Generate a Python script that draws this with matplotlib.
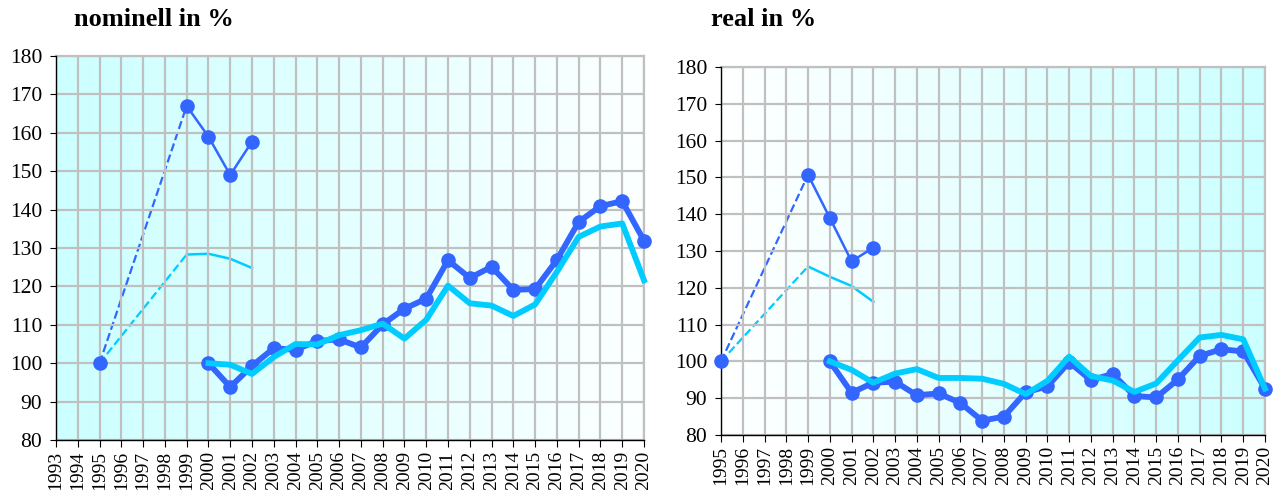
import numpy as np
import matplotlib
matplotlib.use("Agg")
import matplotlib.pyplot as plt
from matplotlib.colors import LinearSegmentedColormap

plt.rcParams['font.family'] = ['Liberation Serif', 'DejaVu Serif']

BLUE = '#3366ff'
CYAN = '#00ccff'
GRID = '#c0c0c0'

# early period (1995 base, 1999-2002)
early_years = [1999, 2000, 2001, 2002]
nom_early_blue = [167.0, 159.0, 149.0, 157.7]
nom_early_cyan = [128.3, 128.5, 127.2, 124.8]
real_early_blue = [150.7, 139.0, 127.2, 130.9]
real_early_cyan = [125.8, 123.0, 120.5, 116.2]

# main period (2000 base)
years = list(range(2000, 2021))
nom_blue = [100.0, 93.8, 99.3, 103.9, 103.5, 105.8, 106.2, 104.1, 110.1, 114.2,
            116.8, 126.8, 122.2, 125.1, 119.1, 119.3, 126.9, 136.8, 140.9, 142.2, 131.9]
nom_cyan = [100.0, 99.6, 97.2, 101.6, 105.0, 104.9, 107.3, 108.6, 110.3, 106.4,
            111.3, 120.2, 115.6, 115.0, 112.3, 115.3, 123.8, 132.9, 135.6, 136.4, 121.6]
real_blue = [100.0, 91.5, 94.2, 94.5, 90.8, 91.3, 88.7, 83.9, 85.0, 91.6,
             93.2, 99.8, 94.9, 96.6, 90.6, 90.2, 95.1, 101.5, 103.3, 102.7, 92.6]
real_cyan = [100.0, 97.7, 94.2, 96.7, 97.9, 95.5, 95.5, 95.3, 93.9, 91.1,
             94.7, 101.3, 96.0, 94.8, 91.7, 94.0, 100.3, 106.5, 107.2, 106.0, 92.6]

base_year = 1995
base_val = 100.0

fig = plt.figure(figsize=(12.86, 4.90), dpi=100)
ax1 = fig.add_axes([56/1286, 1-440/490, (644-56)/1286, (440-56)/490])
ax2 = fig.add_axes([721/1286, 1-435/490, (1265-721)/1286, (435-67)/490])

cmap_l = LinearSegmentedColormap.from_list('l', ['#ccffff', '#fcffff'])
cmap_r = LinearSegmentedColormap.from_list('r', ['#ffffff', '#ccffff'])


def draw(ax, x0, eb, ec, mb, mc, cmap, title, tx):
    x1 = 2020
    grad = np.linspace(0, 1, 256).reshape(1, -1)
    ax.imshow(grad, cmap=cmap, aspect='auto', extent=[x0, x1, 80, 180], zorder=0)
    ax.set_xlim(x0, x1)
    ax.set_ylim(80, 180)
    ax.set_xticks(range(x0, x1 + 1))
    ax.set_xticklabels([str(y) for y in range(x0, x1 + 1)], rotation=90, fontsize=14)
    ax.set_yticks(range(80, 181, 10))
    ax.tick_params(axis='y', labelsize=15.5, length=4, direction='out', pad=6)
    ax.tick_params(axis='x', length=5, direction='out', pad=3)
    ax.grid(True, color=GRID, lw=1.6, zorder=1)
    ax.set_axisbelow(False)
    for s in ['top', 'right']:
        ax.spines[s].set_color(GRID)
        ax.spines[s].set_linewidth(1.6)
    for s in ['left', 'bottom']:
        ax.spines[s].set_color('black')
        ax.spines[s].set_linewidth(1.0)
        ax.spines[s].set_zorder(3)

    # dashed links from base year
    ax.plot([base_year, early_years[0]], [base_val, eb[0]], '--', color=BLUE, lw=1.6, zorder=2)
    ax.plot([base_year, early_years[0]], [base_val, ec[0]], '--', color=CYAN, lw=1.6, zorder=2)
    ax.plot([base_year], [base_val], 'o', color=BLUE, ms=9.5, zorder=4, clip_on=False)
    # early solid segments
    ax.plot(early_years, ec, '-', color=CYAN, lw=1.8, zorder=2)
    ax.plot(early_years, eb, '-o', color=BLUE, lw=1.8, ms=9.5, zorder=3)
    # main series
    ax.plot(years, mb, '-o', color=BLUE, lw=4.2, ms=9.5, zorder=4, clip_on=False)
    ax.plot(years, mc, '-', color=CYAN, lw=4.2, zorder=5, clip_on=False)

    fig.text(tx, 1 - 20/490, title, fontsize=19, fontweight='bold', va='center', ha='left')


draw(ax1, 1993, nom_early_blue, nom_early_cyan, nom_blue, nom_cyan, cmap_l, 'nominell in %', 74/1286)
draw(ax2, 1995, real_early_blue, real_early_cyan, real_blue, real_cyan, cmap_r, 'real in %', 711/1286)

fig.savefig('out.png', dpi=100)
